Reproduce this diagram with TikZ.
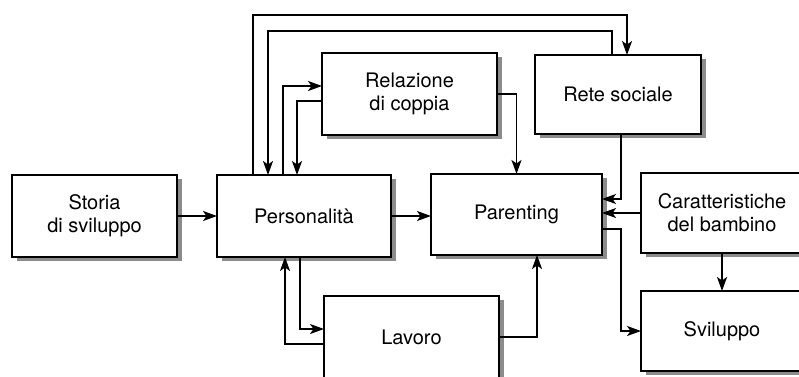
\documentclass[tikz,border=0pt]{standalone}
\usepackage{fontspec}
\setmainfont{TeX Gyre Heros}
\usetikzlibrary{arrows.meta}
\begin{document}
\begin{tikzpicture}[x=1pt,y=-1pt,
  box/.style={draw,line width=1.6pt,fill=white,inner sep=0pt,outer sep=0pt,align=center,
    font=\fontsize{20}{23}\selectfont},
  boxshadow/.style={fill=black!45,draw=none},
  arr/.style={line width=1.6pt,-{Stealth[length=14pt,width=10pt,inset=3.5pt]}}]
\useasboundingbox (0,0) rectangle (799,376);
% shadows first (drawn below the boxes)
\foreach \cx/\cy/\w/\h in {94.5/216/165/82, 304/216/174/82, 409.5/94/175/82, 618/94.5/166/79,
  516.5/214.5/171/81, 722/213/162/80, 722/331/162/80, 411.5/337/175/82}
  \fill[boxshadow] (\cx-\w/2+5,\cy-\h/2+4) rectangle (\cx+\w/2+5,\cy+\h/2+4);
\node[box,minimum width=165pt,minimum height=82pt] (stor) at (94.5,216) {Storia\\di sviluppo};
\node[box,minimum width=174pt,minimum height=82pt] (pers) at (304,216) {Personalità};
\node[box,minimum width=175pt,minimum height=82pt] (rel) at (409.5,94) {Relazione\\di coppia};
\node[box,minimum width=166pt,minimum height=79pt] (rete) at (618,94.5) {Rete sociale};
\node[box,minimum width=171pt,minimum height=81pt] (par) at (516.5,214.5) {Parenting};
\node[box,minimum width=162pt,minimum height=80pt] (car) at (722,213) {Caratteristiche\\del bambino};
\node[box,minimum width=162pt,minimum height=80pt] (svil) at (722,331) {Sviluppo};
\node[box,minimum width=175pt,minimum height=82pt] (lav) at (411.5,337) {Lavoro};
\coordinate (top1) at (0,15);
\coordinate (top2) at (0,31);
\coordinate (rA) at ([xshift=92pt]rete.north west);
\coordinate (rB) at ([xshift=77pt]rete.north west);
\coordinate (pA) at ([xshift=36pt]pers.north west);
\coordinate (pB) at ([xshift=51pt]pers.north west);
% connectors
\draw[arr] (stor.east) -- (pers.west);
\draw[arr] (pers.east) -- (pers.east -| par.west);
\draw[arr] (rel.east) -| (par.north);
\draw[arr] ([xshift=66pt]pers.north west) |- ([yshift=8pt]rel.west);
\draw[arr] ([yshift=-7pt]rel.west) -| ([xshift=80pt]pers.north west);
\draw[arr] (pA) |- (top1 -| rA) -- (rA);
\draw[arr] (rB) |- (top2 -| pB) -- (pB);
\draw[arr] ([xshift=86pt]rete.south west) |- ([yshift=15.5pt]par.east);
\draw[arr] (car.west) -- (car.west -| par.east);
\draw[arr] (car.south) -- (svil.north);
\draw[arr] ([yshift=-14.5pt]par.east) -| ([xshift=-20pt]svil.west) -- (svil.west);
\draw[arr] (lav.east) -| ([xshift=106pt]par.south west);
\draw[arr] ([xshift=83pt]pers.south west) |- ([yshift=8pt]lav.west);
\draw[arr] ([yshift=-7pt]lav.west) -| ([xshift=68pt]pers.south west);
\end{tikzpicture}
\end{document}
